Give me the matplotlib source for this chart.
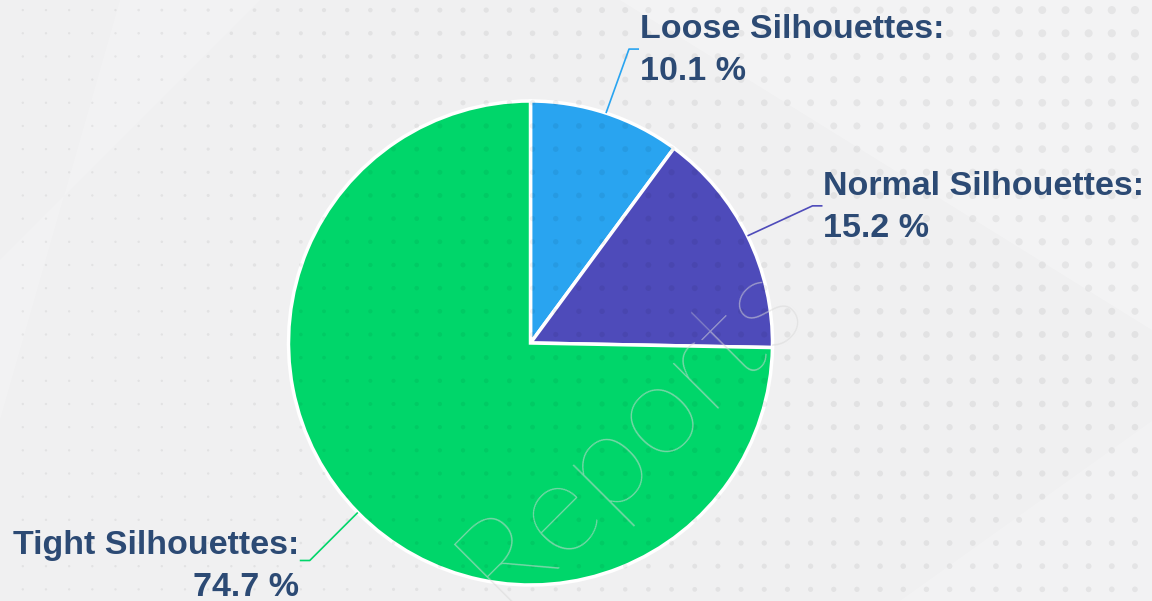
import matplotlib.pyplot as plt
import numpy as np
from matplotlib.patches import Polygon

# data
labels = ["Loose Silhouettes", "Normal Silhouettes", "Tight Silhouettes"]
shares = [10.1, 15.2, 74.7]
colors = ["#29A4F0", "#4E4BBA", "#00D66A"]

W, H = 1152, 601
fig = plt.figure(figsize=(W / 100, H / 100), dpi=100)
fig.patch.set_facecolor("#F0F0F1")
ax = fig.add_axes([0, 0, 1, 1])
ax.set_facecolor("#F0F0F1")

# soft diagonal bands in the background
for pts, a in [
    ([(480, H), (W, H), (W, H - 330), (620, H)], 0.25),
    ([(0, H - 420), (0, H - 260), (260, H), (120, H)], 0.15),
    ([(700, 0), (W, 0), (W, 180), (900, 0)], 0.2),
]:
    ax.add_patch(Polygon(pts, closed=True, facecolor="white", alpha=a,
                         edgecolor="none", zorder=0))

# pie
cx, cy, r = 530.5, H - 343, 242
wedges, _ = ax.pie(shares, colors=colors, startangle=90, counterclock=False,
                   center=(cx, cy), radius=r, frame=True,
                   wedgeprops=dict(edgecolor="white", linewidth=2.5, zorder=2))

# dot grid on top (faint)
gx = np.arange(22.8, W, 23.17)
gy = np.arange(10.1, H, 23.17)
X, Y = np.meshgrid(gx, gy)
dist = np.hypot(W - X, Y)
size = np.clip(36 - dist * 0.032, 3, 36)
ax.scatter(X.ravel(), H - Y.ravel(), s=size.ravel(), color="black",
           alpha=0.055, linewidths=0, zorder=3)

# watermark
ax.text(630, H - 432, "Reports", rotation=45, rotation_mode="anchor",
        ha="center", va="center", fontsize=94, family="Lato",
        fontweight=100, color="#d8d8d8", alpha=0.55, zorder=4)

# leader lines and labels
text_kw = dict(fontsize=24.5, family="Liberation Sans", fontweight="bold",
               color="#2C4A74", zorder=5)
elbows = [(23, 64), (65, 30), (-48, -48)]
for w, lab, val, col, (dx, dy) in zip(wedges, labels, shares, colors, elbows):
    ang = np.deg2rad((w.theta1 + w.theta2) / 2)
    x0, y0 = cx + r * np.cos(ang), cy + r * np.sin(ang)
    x1, y1 = x0 + dx, y0 + dy
    side = 1 if dx > 0 else -1
    x2 = x1 + 10 * side
    ax.plot([x0, x1, x2], [y0, y1, y1], color=col, lw=1.2, zorder=5,
            solid_capstyle="butt")
    ha = "left" if side > 0 else "right"
    up = 11 if side > 0 else 6
    down = 31 if side > 0 else 36
    ax.text(x2 + side, y1 + up, lab + ":", ha=ha, va="baseline", **text_kw)
    ax.text(x2 + side, y1 - down, f"{val} %", ha=ha, va="baseline", **text_kw)

ax.set_xlim(0, W)
ax.set_ylim(0, H)
ax.set_aspect("equal")
ax.axis("off")

fig.savefig("out.png", dpi=100, facecolor=fig.get_facecolor())
